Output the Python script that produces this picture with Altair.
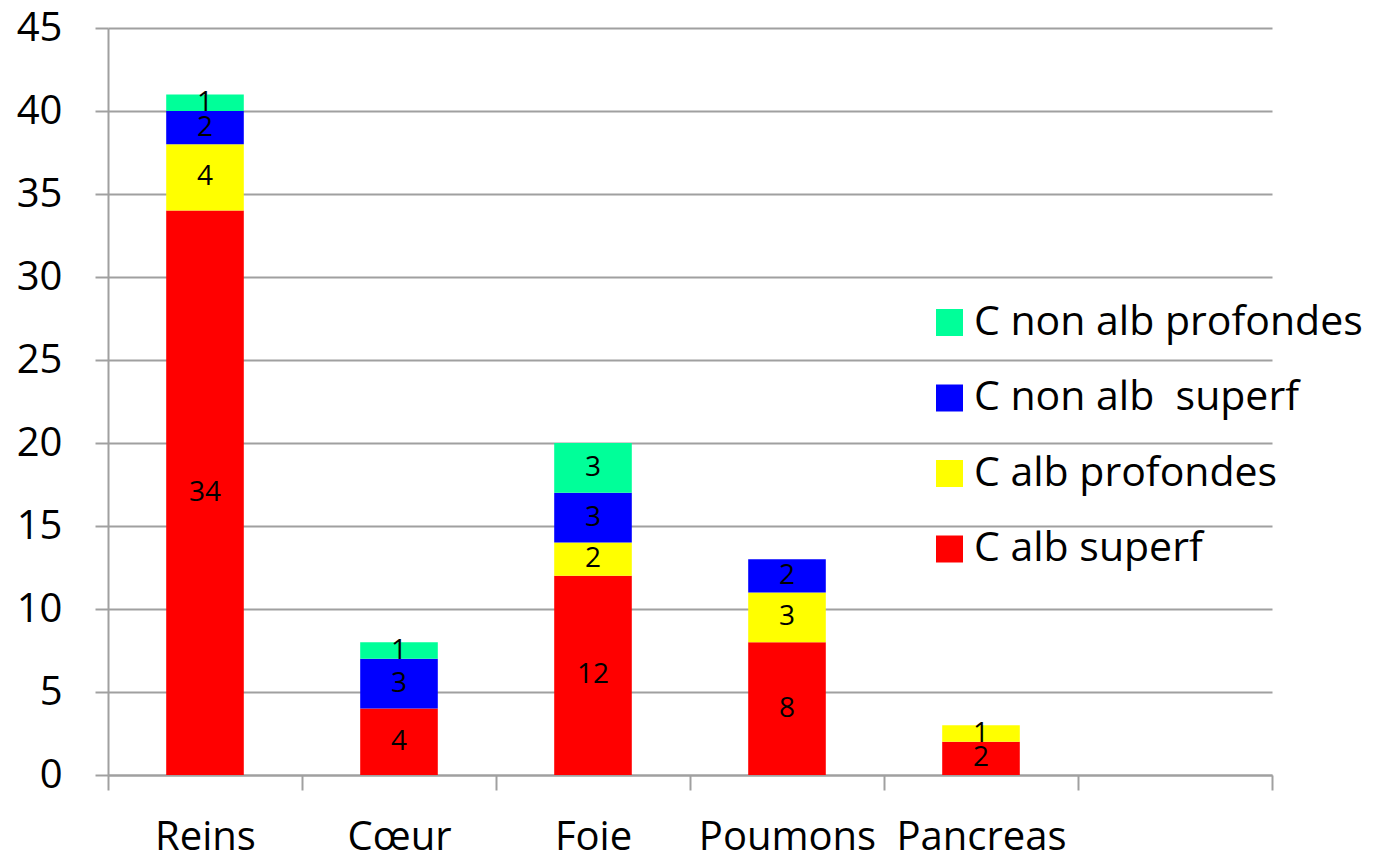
import altair as alt
import pandas as pd

organs = ["Reins", "Cœur", "Foie", "Poumons", "Pancreas"]
slots = organs + [""]
series = ["C alb superf", "C alb profondes", "C non alb\u00a0 superf", "C non alb profondes"]
colors = ["#FF0000", "#FFFF00", "#0000FF", "#00FF99"]

c_alb_superf = [34, 4, 12, 8, 2]
c_alb_profondes = [4, 0, 2, 3, 1]
c_non_alb_superf = [2, 3, 3, 2, 0]
c_non_alb_profondes = [1, 1, 3, 0, 0]

values = [c_alb_superf, c_alb_profondes, c_non_alb_superf, c_non_alb_profondes]
rows = []
for si, (s, vals) in enumerate(zip(series, values)):
    for organ, v in zip(organs, vals):
        if v:
            rows.append({"organ": organ, "series": s, "idx": si, "value": v})
df = pd.DataFrame(rows)

FONT = "Open Sans"
GRAY = "#A0A0A0"

legend_order = series[::-1]
legend_colors = colors[::-1]

base = alt.Chart(df).transform_stack(
    stack="value",
    groupby=["organ"],
    as_=["y0", "y1"],
    sort=[alt.SortField("idx", order="ascending")],
).transform_calculate(mid="(datum.y0 + datum.y1) / 2")

x_enc = alt.X(
    "organ:N",
    scale=alt.Scale(domain=slots, paddingInner=0, paddingOuter=0),
    axis=alt.Axis(
        title=None,
        labelAngle=0,
        labelFont=FONT,
        labelFontSize=40,
        labelColor="black",
        labelPadding=27,
        tickBand="extent",
        tickSize=15,
        tickWidth=2,
        tickColor=GRAY,
        domainColor=GRAY,
        domainWidth=2,
        grid=False,
    ),
)

bars = base.mark_bar(width=alt.RelativeBandSize(0.4)).encode(
    x=x_enc,
    y=alt.Y(
        "y0:Q",
        scale=alt.Scale(domain=[0, 45], nice=False),
        axis=alt.Axis(
            title=None,
            values=list(range(0, 46, 5)),
            labelFont=FONT,
            labelFontSize=40,
            labelColor="black",
            labelPadding=33,
            tickSize=13,
            tickWidth=2,
            tickColor=GRAY,
            domainColor=GRAY,
            domainWidth=2,
            grid=True,
            gridColor=GRAY,
            gridWidth=2,
        ),
    ),
    y2="y1:Q",
    color=alt.Color(
        "series:N",
        scale=alt.Scale(domain=legend_order, range=legend_colors),
        legend=alt.Legend(
            title=None,
            orient="none",
            legendX=821,
            legendY=274,
            symbolType="square",
            symbolSize=729,
            symbolStrokeWidth=0,
            symbolOpacity=1,
            labelFont=FONT,
            labelFontSize=41,
            labelColor="black",
            labelOffset=4,
            rowPadding=33.5,
            labelLimit=600,
        ),
    ),
)

labels = base.mark_text(font=FONT, fontSize=28, color="black").encode(
    x=alt.X("organ:N", scale=alt.Scale(domain=slots, paddingInner=0, paddingOuter=0)),
    y=alt.Y("mid:Q"),
    text=alt.Text("value:Q"),
)

chart = (
    alt.layer(bars, labels)
    .properties(
        width=1164,
        height=747,
        autosize=alt.AutoSizeParams(type="none"),
        padding={"left": 100, "top": 20, "right": 96, "bottom": 78},
    )
    .configure_view(strokeWidth=0)
)

chart.save("out.html", embed_options={"renderer": "svg", "actions": False})
